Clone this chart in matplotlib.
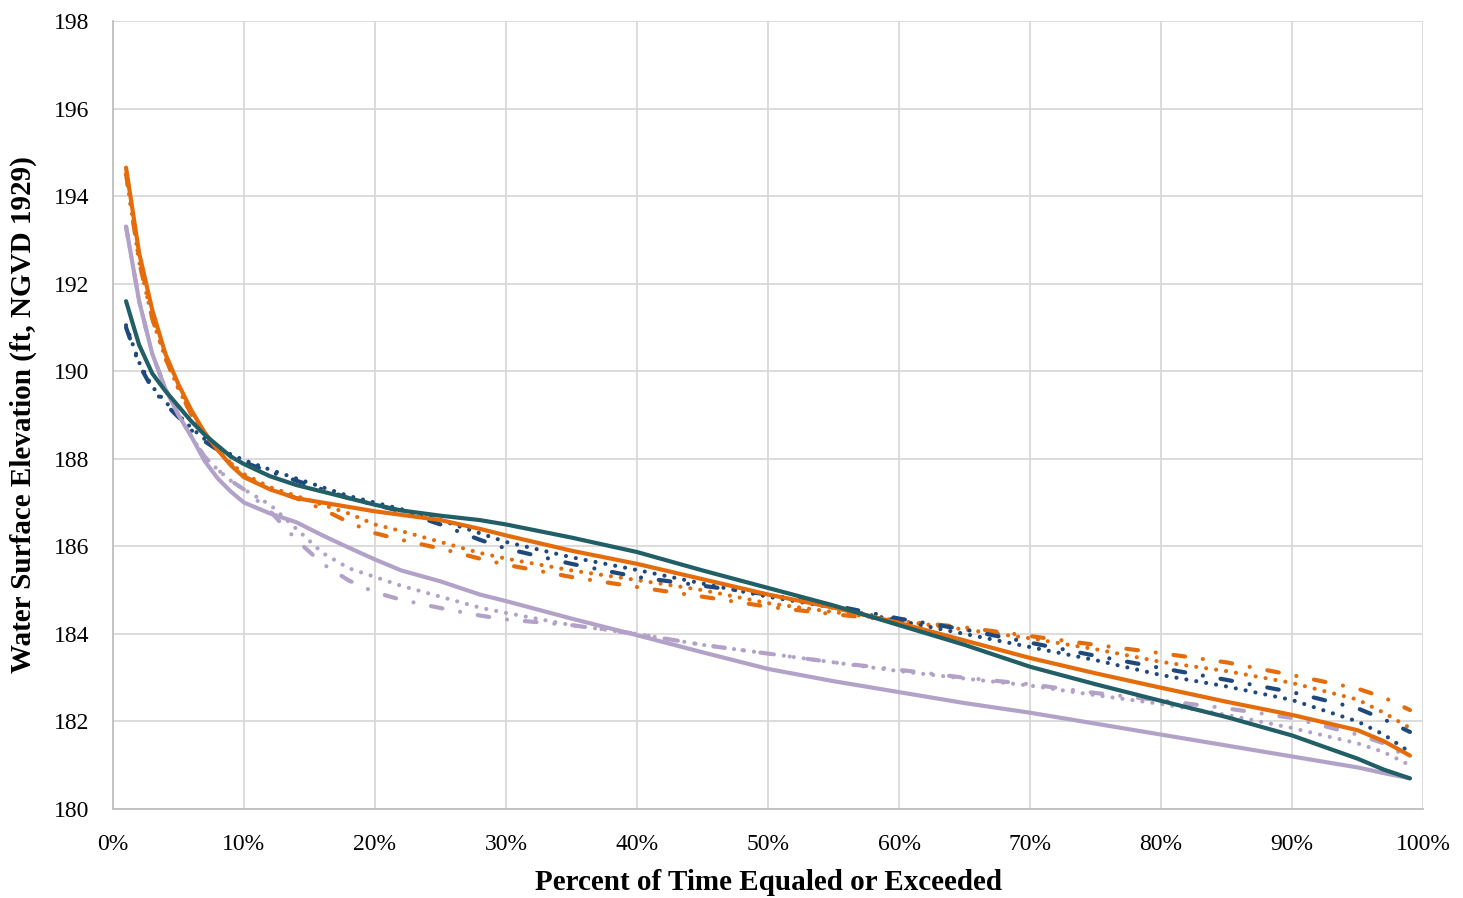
import matplotlib
matplotlib.use('Agg')
import matplotlib.pyplot as plt
from matplotlib.ticker import FuncFormatter, MultipleLocator

plt.rcParams['font.family'] = ['Liberation Serif', 'DejaVu Serif']

# percent of time equaled or exceeded
pct = [1, 2, 3, 4, 5, 6, 7, 8, 9, 10, 12, 14, 16, 18, 20, 22, 25, 28, 30, 35,
       40, 45, 50, 55, 60, 65, 70, 75, 80, 85, 90, 95, 97, 99]

teal_solid = [191.6, 190.6, 189.95, 189.55, 189.2, 188.85, 188.55, 188.3, 188.05, 187.88,
              187.6, 187.4, 187.25, 187.1, 186.95, 186.82, 186.7, 186.6, 186.5, 186.2,
              185.87, 185.45, 185.05, 184.65, 184.2, 183.75, 183.25, 182.85, 182.47, 182.1,
              181.68, 181.15, 180.9, 180.7]

orange_solid = [194.65, 192.7, 191.4, 190.4, 189.7, 189.1, 188.6, 188.2, 187.85, 187.58,
                187.3, 187.1, 187.0, 186.9, 186.8, 186.72, 186.6, 186.4, 186.25, 185.9,
                185.6, 185.25, 184.9, 184.6, 184.25, 183.85, 183.45, 183.1, 182.77, 182.45,
                182.15, 181.8, 181.55, 181.22]

lav_solid = [193.3, 191.6, 190.4, 189.6, 189.0, 188.5, 187.95, 187.55, 187.25, 187.0,
             186.75, 186.55, 186.25, 185.97, 185.7, 185.45, 185.2, 184.9, 184.75, 184.35,
             183.97, 183.58, 183.2, 182.92, 182.67, 182.42, 182.2, 181.95, 181.7, 181.45,
             181.2, 180.95, 180.82, 180.7]

blue_dot = [191.05, 190.2, 189.65, 189.3, 189.0, 188.7, 188.45, 188.25, 188.1, 187.97,
            187.75, 187.55, 187.35, 187.15, 187.0, 186.85, 186.6, 186.3, 186.1, 185.75,
            185.46, 185.15, 184.85, 184.6, 184.3, 184.0, 183.7, 183.4, 183.06, 182.8,
            182.49, 182.0, 181.7, 181.3]

blue_dashdot = [191.0, 190.15, 189.6, 189.25, 188.95, 188.65, 188.4, 188.2, 188.05, 187.92,
                187.7, 187.5, 187.3, 187.1, 186.95, 186.8, 186.5, 186.15, 185.95, 185.6,
                185.3, 185.1, 184.9, 184.65, 184.35, 184.1, 183.8, 183.5, 183.22, 182.95,
                182.67, 182.3, 182.05, 181.76]

orange_dot = [194.5, 192.5, 191.2, 190.3, 189.6, 189.0, 188.55, 188.2, 187.9, 187.65,
              187.35, 187.15, 186.95, 186.75, 186.5, 186.35, 186.1, 185.85, 185.72, 185.45,
              185.23, 185.0, 184.7, 184.5, 184.3, 184.1, 183.9, 183.65, 183.36, 183.15,
              182.88, 182.5, 182.2, 181.85]

orange_dashdot = [194.5, 192.5, 191.2, 190.3, 189.6, 189.0, 188.55, 188.2, 187.9, 187.6,
                  187.3, 187.1, 186.85, 186.55, 186.3, 186.15, 185.95, 185.72, 185.58, 185.3,
                  185.07, 184.85, 184.62, 184.45, 184.3, 184.15, 183.95, 183.75, 183.56, 183.35,
                  183.06, 182.75, 182.55, 182.26]

lav_dot = [193.3, 191.6, 190.4, 189.6, 189.0, 188.5, 188.05, 187.75, 187.5, 187.3,
           186.95, 186.4, 185.85, 185.5, 185.3, 185.1, 184.85, 184.6, 184.48, 184.2,
           184.0, 183.75, 183.55, 183.35, 183.15, 182.98, 182.82, 182.6, 182.4, 182.15,
           181.85, 181.5, 181.3, 181.0]

lav_dashdot = [193.3, 191.6, 190.4, 189.6, 189.0, 188.5, 188.05, 187.75, 187.5, 187.3,
               186.8, 186.15, 185.6, 185.22, 184.95, 184.78, 184.59, 184.42, 184.33, 184.2,
               184.0, 183.75, 183.55, 183.35, 183.18, 183.0, 182.85, 182.65, 182.48, 182.3,
               182.08, 181.7, 181.5, 181.15]

TEAL = '#215E66'
ORANGE = '#E46C0A'
LAV = '#B3A2C7'
BLUE = '#1F497D'

DOT = (0, (0.01, 2.4))
DASHDOT = (0, (2.8, 4.3, 0.01, 4.3))
LW = 3.0

fig = plt.figure(figsize=(14.63, 8.98), dpi=100)
ax = fig.add_axes([0.0772, 0.0991, 0.8955, 0.8775])

kw = dict(lw=LW, dash_capstyle='round', solid_capstyle='round')

ax.plot(pct, lav_dashdot, color=LAV, ls=DASHDOT, **kw)
ax.plot(pct, lav_dot, color=LAV, ls=DOT, **kw)
ax.plot(pct, orange_dashdot, color=ORANGE, ls=DASHDOT, **kw)
ax.plot(pct, orange_dot, color=ORANGE, ls=DOT, **kw)
ax.plot(pct, blue_dashdot, color=BLUE, ls=DASHDOT, **kw)
ax.plot(pct, blue_dot, color=BLUE, ls=DOT, **kw)
ax.plot(pct, lav_solid, color=LAV, ls='-', **kw)
ax.plot(pct, orange_solid, color=ORANGE, ls='-', **kw)
ax.plot(pct, teal_solid, color=TEAL, ls='-', **kw)

ax.set_xlim(0, 100)
ax.set_ylim(180, 198)
ax.xaxis.set_major_locator(MultipleLocator(10))
ax.yaxis.set_major_locator(MultipleLocator(2))
ax.xaxis.set_major_formatter(FuncFormatter(lambda v, p: f'{v:.0f}%'))

ax.grid(True, color='#D9D9D9', lw=1.3)
ax.set_axisbelow(True)
for s in ['top', 'right']:
    ax.spines[s].set_visible(False)
for s in ['left', 'bottom']:
    ax.spines[s].set_color('#BFBFBF')
    ax.spines[s].set_linewidth(1.3)
ax.tick_params(length=0, labelsize=17)
ax.tick_params(axis='y', pad=17)
ax.tick_params(axis='x', pad=18)

ax.set_xlabel('Percent of Time Equaled or Exceeded', fontsize=21, fontweight='bold', labelpad=10)
ax.set_ylabel('Water Surface Elevation (ft, NGVD 1929)', fontsize=21, fontweight='bold', labelpad=12)

fig.savefig('out.png', dpi=100)
